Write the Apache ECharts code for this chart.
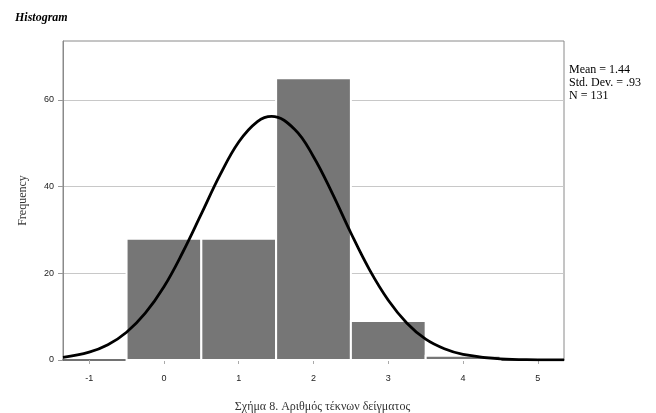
<!DOCTYPE html>
<html>
<head>
<meta charset="utf-8">
<script src="https://cdn.jsdelivr.net/npm/echarts@6/dist/echarts.min.js"></script>
<style>html,body{margin:0;padding:0;background:#fff}#c{width:656px;height:413px}</style>
</head>
<body>
<div id="c"></div>
<script>
// Histogram bins (centres) and frequencies
var binCenters = [0, 1, 2, 3, 4];
var frequencies = [28, 28, 65, 9, 1];
// Normal curve
var curveX = [-1.35, -1.0, -0.75, -0.5, -0.25, 0, 0.25, 0.5, 0.75, 1, 1.25, 1.44, 1.75, 2, 2.25, 2.5, 2.75, 3, 3.25, 3.5, 3.75, 4, 4.5, 5, 5.35];
var curveY = [0.6, 1.8, 3.5, 6.4, 10.8, 16.9, 24.8, 33.7, 42.7, 50.3, 55.0, 56.2, 53.2, 46.9, 38.5, 29.3, 20.8, 13.8, 8.5, 4.8, 2.6, 1.3, 0.25, 0.05, 0.01];
var xTicks = [-1, 0, 1, 2, 3, 4, 5];
var yTicks = [0, 20, 40, 60];
var statsLines = ['Mean = 1.44', 'Std. Dev. = .93', 'N = 131'];

var barData = binCenters.map(function (c, i) { return [c, frequencies[i]]; });
var curveData = curveX.map(function (x, i) { return [x, curveY[i]]; });

var chart = echarts.init(document.getElementById('c'));
chart.setOption({
  animation: false,
  backgroundColor: '#fff',
  title: {
    text: 'Histogram', left: 10, top: 7,
    textStyle: { fontFamily: 'Liberation Serif', fontStyle: 'italic', fontWeight: 'bold', fontSize: 12, color: '#000' }
  },
  grid: { left: 63, right: 92, top: 41, bottom: 53, show: true, borderColor: '#8a8a8a', borderWidth: 1, backgroundColor: '#fff', outerBoundsMode: 'none', containLabel: false },
  xAxis: {
    type: 'value', min: -1.35, max: 5.35,
    axisLine: { show: true, onZero: false, lineStyle: { color: '#555', width: 1.5 } },
    axisTick: { show: true, customValues: xTicks, length: 4, lineStyle: { color: '#aaa' } },
    axisLabel: { customValues: xTicks, fontFamily: 'Liberation Sans', fontSize: 9, color: '#222', margin: 14 },
    splitLine: { show: false },
    name: 'Σχήμα 8. Αριθμός τέκνων δείγματος',
    nameLocation: 'middle', nameGap: 41,
    nameTextStyle: { fontFamily: 'Liberation Serif', fontSize: 12, color: '#333', padding: [0, 0, 0, 18] }
  },
  yAxis: {
    type: 'value', min: 0, max: 73.6,
    axisLine: { show: true, onZero: false, lineStyle: { color: '#8a8a8a' } },
    axisTick: { show: true, customValues: yTicks, length: 5, lineStyle: { color: '#999' } },
    axisLabel: { customValues: yTicks, fontFamily: 'Liberation Sans', fontSize: 9, color: '#222', margin: 9 },
    splitLine: { show: true, lineStyle: { color: '#c8c8c8', width: 1 } },
    name: 'Frequency', nameLocation: 'middle', nameGap: 34, nameRotate: 90,
    nameTextStyle: { fontFamily: 'Liberation Serif', fontSize: 12, color: '#333' }
  },
  graphic: [{
    type: 'text', left: 569, top: 63,
    style: { text: statsLines.join('\n'), font: '12px "Liberation Serif"', fill: '#000', lineHeight: 13 }
  }],
  series: [{
    type: 'custom',
    data: barData,
    renderItem: function (params, api) {
      var c = api.value(0), v = api.value(1);
      var p0 = api.coord([c - 0.5, v]);
      var p1 = api.coord([c + 0.5, 0]);
      return {
        type: 'rect',
        shape: { x: p0[0], y: p0[1], width: p1[0] - p0[0], height: p1[1] - p0[1] },
        style: { fill: '#767676', stroke: '#ffffff', lineWidth: 2 }
      };
    },
    z: 2
  }, {
    type: 'line', data: curveData, smooth: 0.4, showSymbol: false,
    lineStyle: { color: '#000', width: 2.8 }, z: 3
  }]
});
</script>
</body>
</html>
